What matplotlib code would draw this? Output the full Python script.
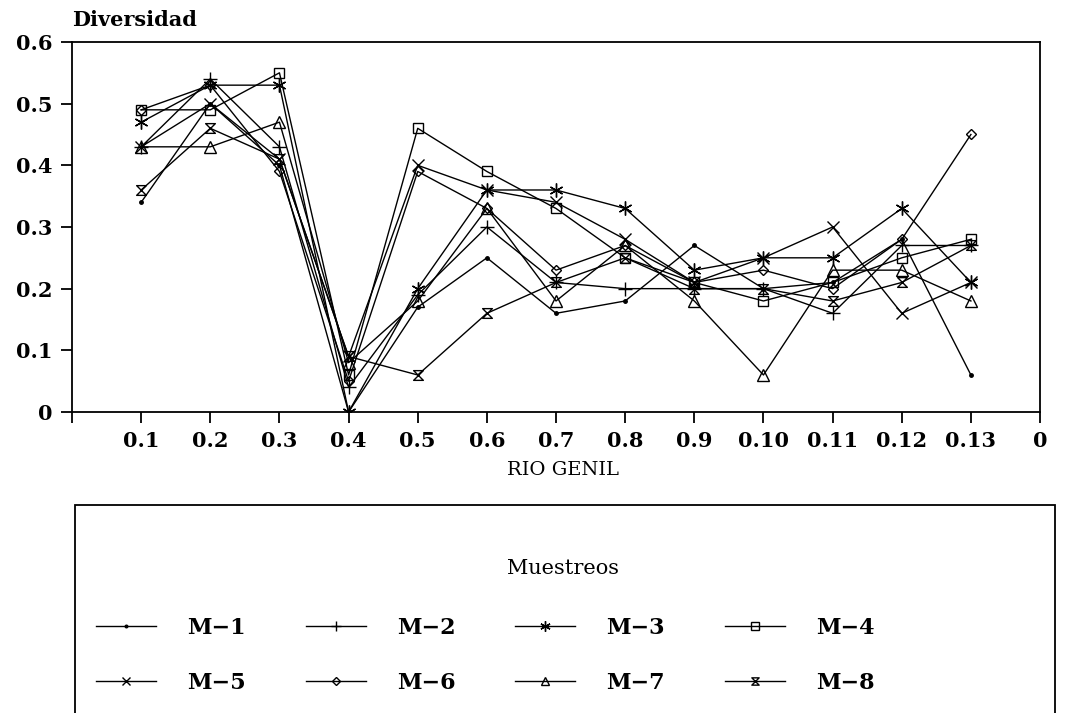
import matplotlib
matplotlib.use("Agg")
import matplotlib.pyplot as plt
from matplotlib.path import Path
from matplotlib.patches import Rectangle

plt.rcParams['font.family'] = ['DejaVu Serif']
plt.rcParams['font.weight'] = 'bold'

# Stations along the river (x positions 1..13) and their labels
stations = list(range(1, 14))
tick_labels = ['0.1', '0.2', '0.3', '0.4', '0.5', '0.6', '0.7', '0.8', '0.9',
               '0.10', '0.11', '0.12', '0.13']

# Diversity values, one list per sampling
m1 = [0.34, 0.50, 0.40, 0.00, 0.17, 0.25, 0.16, 0.18, 0.27, 0.20, 0.21, 0.28, 0.06]
m2 = [0.43, 0.54, 0.43, 0.04, 0.19, 0.30, 0.21, 0.20, 0.20, 0.20, 0.16, 0.27, 0.27]
m3 = [0.47, 0.53, 0.53, 0.00, 0.20, 0.36, 0.36, 0.33, 0.23, 0.25, 0.25, 0.33, 0.21]
m4 = [0.49, 0.49, 0.55, 0.06, 0.46, 0.39, 0.33, 0.25, 0.21, 0.18, 0.21, 0.25, 0.28]
m5 = [0.43, 0.50, 0.41, 0.09, 0.40, 0.36, 0.34, 0.28, 0.21, 0.25, 0.30, 0.16, 0.21]
m6 = [0.49, 0.53, 0.39, 0.05, 0.39, 0.33, 0.23, 0.27, 0.21, 0.23, 0.20, 0.28, 0.45]
m7 = [0.43, 0.43, 0.47, 0.08, 0.18, 0.33, 0.18, 0.27, 0.18, 0.06, 0.23, 0.23, 0.18]
m8 = [0.36, 0.46, 0.41, 0.09, 0.06, 0.16, 0.21, 0.25, 0.20, 0.20, 0.18, 0.21, 0.27]

series_names = ['M\u22121', 'M\u22122', 'M\u22123', 'M\u22124',
                'M\u22125', 'M\u22126', 'M\u22127', 'M\u22128']

# hourglass marker for M-8
hourglass = Path([(-1, 1), (1, 1), (-1, -1), (1, -1), (-1, 1)],
                 [Path.MOVETO, Path.LINETO, Path.LINETO, Path.LINETO, Path.CLOSEPOLY])

styles = [
    dict(marker='o', markersize=2.5, markerfacecolor='black'),
    dict(marker='+', markersize=10, markeredgewidth=1.0),
    dict(marker=(6, 2, 0), markersize=10, markeredgewidth=1.0),
    dict(marker='s', markersize=7, markerfacecolor='none'),
    dict(marker='x', markersize=8, markeredgewidth=1.0),
    dict(marker='D', markersize=5, markerfacecolor='none'),
    dict(marker='^', markersize=8, markerfacecolor='none'),
    dict(marker=hourglass, markersize=7, markerfacecolor='none'),
]

fig = plt.figure(figsize=(10.78, 7.13), dpi=100)
ax = fig.add_axes([0.0668, 0.4222, 0.8980, 0.5189])

handles = []
for vals, name, st in zip([m1, m2, m3, m4, m5, m6, m7, m8], series_names, styles):
    h, = ax.plot(stations, vals, color='black', linewidth=1.0,
                 markeredgecolor='black', label=name, **st)
    handles.append(h)

ax.set_xlim(0, 14)
ax.set_ylim(0, 0.6)
ax.set_xticks([0] + stations + [14])
ax.set_xticklabels([''] + tick_labels + ['0'])
ax.set_yticks([0, 0.1, 0.2, 0.3, 0.4, 0.5, 0.6])
ax.set_yticklabels(['0', '0.1', '0.2', '0.3', '0.4', '0.5', '0.6'])
ax.tick_params(direction='out', length=8, width=1.3, labelsize=15, pad=6,
               top=False, right=False)
for sp in ax.spines.values():
    sp.set_linewidth(1.3)

fig.text(0.067, 0.972, 'Diversidad', fontsize=15, ha='left', va='center')
fig.text(0.522, 0.341, 'RIO GENIL', fontsize=14, ha='center', va='center',
         fontweight='normal')

# legend box, open at the bottom edge of the page
fig.add_artist(Rectangle((0.0696, -0.02), 0.909, 0.312, transform=fig.transFigure,
                         fill=False, edgecolor='black', linewidth=1.3))
fig.text(0.522, 0.203, 'Muestreos', fontsize=15, ha='center', va='center',
         fontweight='normal')

order = [0, 4, 1, 5, 2, 6, 3, 7]
fig.legend([handles[i] for i in order], [series_names[i] for i in order],
           loc='upper left', bbox_to_anchor=(0.089, 0.135), ncol=4,
           frameon=False, fontsize=16, handlelength=2.7, handletextpad=1.4,
           columnspacing=2.7, labelspacing=1.5, borderpad=0, borderaxespad=0,
           markerscale=0.75)

fig.savefig('out.png', dpi=100)
